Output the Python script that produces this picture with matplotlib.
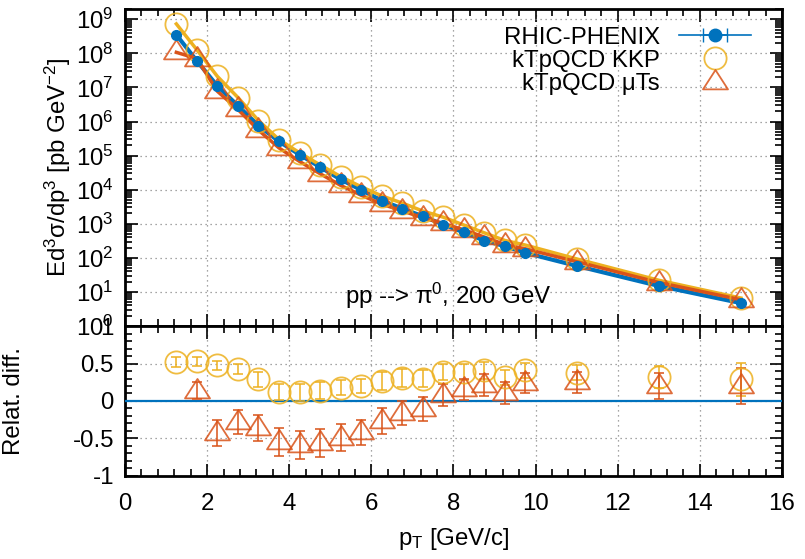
import matplotlib

matplotlib.use("Agg")

import matplotlib.pyplot as plt
import numpy as np
from matplotlib.path import Path as MPath
from matplotlib.ticker import LogLocator, MultipleLocator, NullFormatter

plt.rcParams["font.family"] = ["Liberation Sans", "DejaVu Sans"]
plt.rcParams["mathtext.fontset"] = "custom"
plt.rcParams["mathtext.rm"] = "Liberation Sans"
plt.rcParams["mathtext.it"] = "Liberation Sans:italic"
plt.rcParams["axes.unicode_minus"] = False

# pT bins [GeV/c]
pt = [1.25, 1.75, 2.25, 2.75, 3.25, 3.75, 4.25, 4.75, 5.25, 5.75, 6.25,
      6.75, 7.25, 7.75, 8.25, 8.75, 9.25, 9.75, 11.0, 13.0, 15.0]

# E d3sigma/dp3 [pb GeV^-2]
phenix = [3.5e8, 6.0e7, 1.1e7, 2.9e6, 7.6e5, 2.6e5, 1.07e5, 4.6e4, 2.0e4, 9.8e3, 4.8e3,
          2.8e3, 1.66e3, 9.5e2, 5.6e2, 3.2e2, 2.2e2, 1.4e2, 58, 15, 4.7]
kkp = [7.3e8, 1.27e8, 2.1e7, 5.06e6, 1.07e6, 2.95e5, 1.21e5, 5.34e4, 2.43e4, 1.22e4, 6.6e3,
       4.06e3, 2.37e3, 1.56e3, 918, 542, 324, 237, 93, 22, 6.6]
muts = [1.07e8, 7.0e7, 7.7e6, 2.26e6, 5.6e5, 1.68e5, 6.75e4, 2.95e4, 1.34e4, 6.9e3, 3.78e3,
        2.4e3, 1.5e3, 1.03e3, 663, 408, 246, 184, 77, 18.9, 5.9]

# relative differences (lower panel)
kkp_rel = [0.52, 0.527, 0.477, 0.427, 0.287, 0.12, 0.116, 0.139, 0.176, 0.20, 0.27,
           0.31, 0.30, 0.39, 0.39, 0.41, 0.32, 0.41, 0.375, 0.32, 0.29]
kkp_rel_err = [0.065, 0.06, 0.057, 0.073, 0.10, 0.11, 0.116, 0.115, 0.10, 0.10, 0.118,
               0.12, 0.11, 0.107, 0.11, 0.11, 0.10, 0.10, 0.10, 0.15, 0.22]
muts_rel = [np.nan, 0.14, -0.43, -0.285, -0.36, -0.55, -0.585, -0.56, -0.49, -0.42, -0.27,
            -0.165, -0.107, 0.08, 0.155, 0.215, 0.105, 0.24, 0.25, 0.205, 0.20]
muts_rel_err = [np.nan, 0.12, 0.17, 0.16, 0.17, 0.19, 0.19, 0.185, 0.18, 0.17, 0.17,
                0.16, 0.16, 0.15, 0.145, 0.15, 0.15, 0.14, 0.14, 0.175, 0.245]

BLUE = "#0072BD"
YELLOW = "#EDB120"
RED = "#D95319"
FS = 17.3

tri = MPath([(-1, -0.55), (1, -0.55), (0, 1.0), (-1, -0.55)],
            [MPath.MOVETO, MPath.LINETO, MPath.LINETO, MPath.CLOSEPOLY])


def style_axis(ax):
    ax.tick_params(which="both", direction="in", top=True, right=True,
                   labelsize=FS, width=1.2)
    ax.tick_params(which="major", length=9)
    ax.tick_params(which="minor", length=5)
    ax.xaxis.set_major_locator(MultipleLocator(2))
    ax.xaxis.set_minor_locator(MultipleLocator(0.4))
    ax.set_xlim(0, 16)
    for spine in ax.spines.values():
        spine.set_linewidth(2)
    ax.grid(True, which="major", color="#888888", linestyle=(0, (1, 3)), linewidth=0.9)


fig = plt.figure(figsize=(8.05, 5.59), dpi=100)
ax1 = fig.add_axes([0.1553, 0.4168, 0.8161, 0.5671])
ax2 = fig.add_axes([0.1553, 0.1485, 0.8161, 0.2683], sharex=ax1)

# --- upper panel: spectra ---
ax1.plot(pt, phenix, color=BLUE, lw=3, zorder=3)
ax1.plot(pt, kkp, color=YELLOW, lw=2.5, zorder=3)
ax1.plot(pt, muts, color=RED, lw=2.5, zorder=3)
ax1.plot(pt, kkp, linestyle="none", marker="o", ms=16, mfc="none", mec=YELLOW,
         mew=1.3, alpha=0.85, zorder=4)
ax1.plot(pt, muts, linestyle="none", marker=tri, ms=18, mfc="none", mec=RED,
         mew=1.3, alpha=0.85, zorder=4)
ax1.plot(pt, phenix, linestyle="none", marker="o", ms=7, color=BLUE, zorder=5)

ax1.set_yscale("log")
ax1.set_ylim(1, 2e9)
ax1.yaxis.set_major_locator(LogLocator(base=10, numticks=15))
ax1.yaxis.set_minor_locator(LogLocator(base=10, subs=np.arange(2, 10), numticks=15))
ax1.yaxis.set_minor_formatter(NullFormatter())
style_axis(ax1)
ax1.tick_params(labelbottom=False, pad=8)
ax1.set_ylabel("Ed$^3$σ/dp$^3$ [pb GeV$^{-2}$]", fontsize=FS, labelpad=2)
ax1.text(5.36, 4.4, "pp --> π$^0$, 200 GeV", fontsize=FS, zorder=6)

# legend
h_data = ax1.errorbar([np.nan], [np.nan], xerr=[1], color=BLUE, marker="o", ms=9,
                      lw=1.2, capsize=5)
h_kkp, = ax1.plot([], [], linestyle="none", marker="o", ms=16, mfc="none",
                  mec=YELLOW, mew=1.3, alpha=0.85)
h_muts, = ax1.plot([], [], linestyle="none", marker=tri, ms=18, mfc="none",
                   mec=RED, mew=1.3, alpha=0.85)
ax1.legend([h_data, h_kkp, h_muts], ["RHIC-PHENIX", "kTpQCD KKP", "kTpQCD μTs"],
           loc="upper right", frameon=False, markerfirst=False, fontsize=FS,
           handlelength=3.0, labelspacing=0.05, borderaxespad=0.2,
           bbox_to_anchor=(0.975, 0.99), handletextpad=0.8)

# --- lower panel: relative difference ---
ax2.axhline(0, color=BLUE, lw=1.6, zorder=3)
ax2.errorbar(pt, kkp_rel, yerr=kkp_rel_err, linestyle="none", marker="o", ms=16,
             mfc="none", mec=YELLOW, mew=1.3, ecolor=YELLOW, elinewidth=1.3,
             capsize=3.6, capthick=1.3, alpha=0.85, zorder=4)
ax2.errorbar(pt, muts_rel, yerr=muts_rel_err, linestyle="none", marker=tri, ms=18,
             mfc="none", mec=RED, mew=1.3, ecolor=RED, elinewidth=1.3,
             capsize=3.6, capthick=1.3, alpha=0.85, zorder=4)
ax2.set_ylim(-1, 1)
ax2.yaxis.set_major_locator(MultipleLocator(0.5))
ax2.yaxis.set_minor_locator(MultipleLocator(0.1))
ax2.set_yticks([-1, -0.5, 0, 0.5, 1])
ax2.set_yticklabels(["-1", "-0.5", "0", "0.5", "1"])
style_axis(ax2)
ax2.tick_params(pad=8)
ax2.tick_params(axis="x", pad=12)
ax2.set_ylabel("Relat. diff.", fontsize=FS)
ax2.yaxis.set_label_coords(-0.152, 0.5)
ax2.set_xlabel("p$_\\mathrm{T}$ [GeV/c]", fontsize=FS, labelpad=8)

fig.savefig("out.png", dpi=100)
